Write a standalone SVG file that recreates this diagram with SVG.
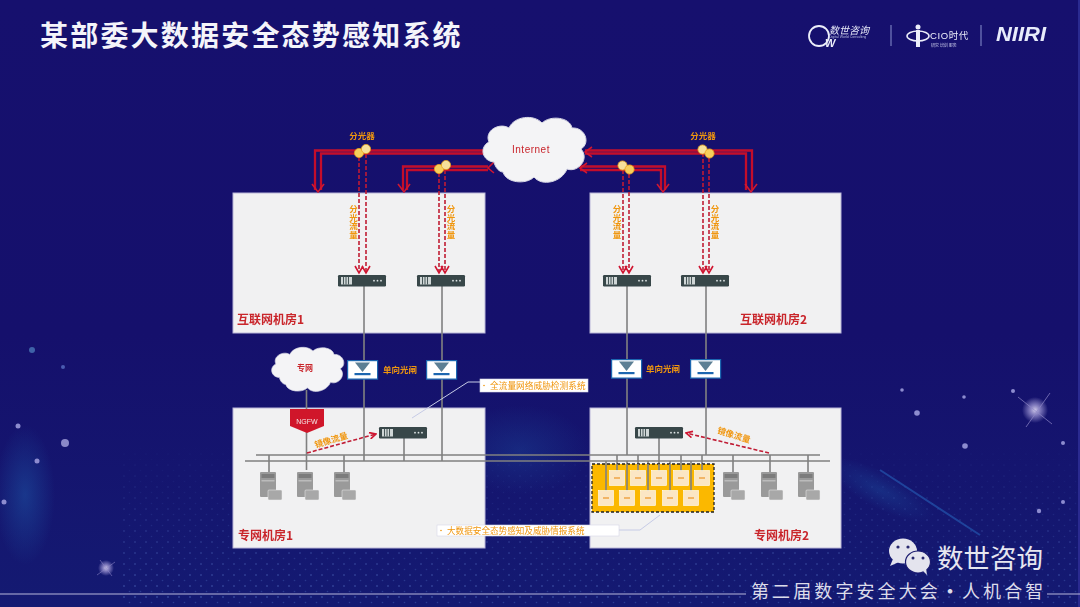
<svg xmlns="http://www.w3.org/2000/svg" xmlns:xlink="http://www.w3.org/1999/xlink" width="1080" height="607" viewBox="0 0 1080 607">
<style>
text{font-family:"Liberation Sans","Noto Sans CJK SC",sans-serif}
.cjk{font-family:"Noto Sans CJK SC","Liberation Sans",sans-serif}
.room{fill:#f1f1f2;stroke:#b9b6d8;stroke-width:1}
.rname{font-size:12px;font-weight:700;fill:#c9252c}
.or{font-size:8.5px;font-weight:700;fill:#f0960e}
.vt{writing-mode:vertical-rl;text-anchor:start}
.rl{fill:none;stroke:#c4112c;stroke-width:2.300}
.ds{fill:none;stroke:#c01c34;stroke-width:1.6;stroke-dasharray:4 2}
.gl{fill:none;stroke:#808080;stroke-width:1.6}
.ah{fill:none;stroke:#d01530;stroke-width:1.6}
.call{fill:#fff;stroke:#d6d6e6;stroke-width:.6}
.lead{fill:none;stroke:#c6cbe6;stroke-width:1}
</style>
<defs>
<linearGradient id="bg" x1="0" y1="0" x2="0" y2="1"><stop offset="0" stop-color="#16106e"/><stop offset=".55" stop-color="#15106c"/><stop offset="1" stop-color="#141a72"/></linearGradient>
<pattern id="dots" width="11" height="11" patternUnits="userSpaceOnUse"><circle cx="3" cy="3" r="1" fill="#5f7fd0"/><circle cx="8.5" cy="8.5" r=".8" fill="#4c6cc0"/></pattern>
<linearGradient id="fade" x1="0" y1="0" x2="0" y2="1"><stop offset="0" stop-color="#000"/><stop offset=".5" stop-color="#555"/><stop offset="1" stop-color="#bbb"/></linearGradient>
<mask id="dm"><rect x="120" y="440" width="960" height="167" fill="url(#fade)"/></mask>
<radialGradient id="mist"><stop offset="0" stop-color="#1f5fae" stop-opacity=".45"/><stop offset="1" stop-color="#1f5fae" stop-opacity="0"/></radialGradient>
<radialGradient id="star"><stop offset="0" stop-color="#cfc9ea"/><stop offset=".45" stop-color="#8f88c8" stop-opacity=".8"/><stop offset="1" stop-color="#8f88c8" stop-opacity="0"/></radialGradient>
<filter id="soft" x="-2%" y="-2%" width="104%" height="104%"><feGaussianBlur stdDeviation=".35"/></filter>
<marker id="arr" viewBox="0 0 10 10" refX="9" refY="5" markerWidth="8" markerHeight="8" markerUnits="userSpaceOnUse" orient="auto"><path d="M1 1 9 5 1 9" fill="none" stroke="#d01530" stroke-width="2"/></marker>
<g id="srv"><rect width="48" height="11.5" rx="1.2" fill="#37474a"/><rect x="3" y="2" width="11" height="7.5" fill="#cfd6d6"/><path d="M5.500 2v7.500M8 2v7.500M10.500 2v7.500" stroke="#37474a" stroke-width=".9"/><circle cx="36" cy="5.700" r=".9" fill="#dfe5e5"/><circle cx="39.500" cy="5.700" r=".9" fill="#dfe5e5"/><circle cx="43" cy="5.700" r=".9" fill="#dfe5e5"/></g>
<g id="gate"><rect x=".6" y=".6" width="30" height="18.500" fill="#fff" stroke="#1b66b0" stroke-width="1.200"/><path d="M8 2.500H23L15.500 12Z" fill="#5b7f94"/><rect x="7.500" y="13" width="16" height="2.200" fill="#1b66b0"/></g>
<g id="host"><rect width="16" height="25" rx="1" fill="#9a9a9a"/><rect x="1.500" y="2" width="13" height="4" fill="#7c7c7c"/><rect x="1.500" y="8" width="13" height="1.500" fill="#bbb"/><rect x="8" y="18" width="14" height="10" rx="1" fill="#a8a8a8" stroke="#eee" stroke-width=".5"/></g>
<g id="sp"><circle cx="-3.500" cy="2" r="4.600" fill="#f6cf5c" stroke="#e7a21c" stroke-width=".8"/><circle cx="3.500" cy="-2" r="4.600" fill="#f7e09a" stroke="#e7a21c" stroke-width=".8"/></g>
<g id="sp2"><circle cx="-3.500" cy="-2" r="4.600" fill="#f7e09a" stroke="#e7a21c" stroke-width=".8"/><circle cx="3.500" cy="2" r="4.600" fill="#f6cf5c" stroke="#e7a21c" stroke-width=".8"/></g>
<path id="cl" d="M12 45C0 44-3 30 7 25 2 14 17 5 27 11 32-1 52-3 60 6 68-2 88 0 90 11 103 10 109 26 99 32 108 42 96 56 85 52 80 65 60 70 52 60 44 68 24 66 21 55 17 55 13 50 12 45Z" fill="#f4f4f6" stroke="#d9d9e6" stroke-width="1"/>
<g id="nb"><rect x="-7.500" y="-7.500" width="15" height="15" fill="#fbe6c4" stroke="#fff" stroke-width=".6"/><rect x="-3" y="-1" width="6" height="2" fill="#f2b566"/></g>
</defs>

<g id="background">
<rect width="1080" height="607" fill="url(#bg)"/>
<rect x="1078" width="2" height="607" fill="#2a2a90"/>
<ellipse cx="25" cy="495" rx="30" ry="70" fill="url(#mist)"/>
<ellipse cx="520" cy="450" rx="70" ry="45" fill="url(#mist)" opacity=".6"/>
<ellipse cx="880" cy="490" rx="60" ry="18" fill="url(#mist)" opacity=".7" transform="rotate(28 880 490)"/>
<rect x="120" y="440" width="960" height="167" fill="url(#dots)" mask="url(#dm)" opacity=".6"/>
<g fill="#8d8ccf">
<circle cx="65" cy="443" r="4" fill="#8a88c8"/><circle cx="18" cy="426" r="2.500"/><circle cx="37" cy="461" r="2.500"/><circle cx="4" cy="502" r="2.500"/><circle cx="32" cy="350" r="3" fill="#3f62a8"/><circle cx="63" cy="367" r="2" fill="#4a5cb0"/>
<circle cx="917" cy="413" r="2.800"/><circle cx="965" cy="446" r="2.800"/><circle cx="902" cy="390" r="1.800"/><circle cx="1013" cy="391" r="2"/><circle cx="964" cy="397" r="1.800"/><circle cx="1063" cy="443" r="2"/><circle cx="1063" cy="502" r="2"/><circle cx="1039" cy="511" r="2.200"/>
</g>
<circle cx="1035" cy="410" r="13" fill="url(#star)"/><path d="M1018 397 1052 424M1050 393 1026 427" stroke="#8f88c8" stroke-width="1" opacity=".7"/>
<circle cx="106" cy="568" r="8" fill="url(#star)"/><path d="M97 575 115 562M100 560 112 576" stroke="#8f88c8" stroke-width=".8" opacity=".7"/>
<path d="M880 470 980 535" stroke="#2660b8" stroke-width="2" opacity=".6"/>
</g>

<g filter="url(#soft)">
<g id="room1"><rect class="room" x="233" y="193" width="252" height="140"/><text class="rname cjk" x="237" y="324">互联网机房1</text></g>
<g id="room2"><rect class="room" x="590" y="193" width="251" height="140"/><text class="rname cjk" x="740" y="324">互联网机房2</text></g>
<g id="room3"><rect class="room" x="233" y="408" width="252" height="140"/><text class="rname cjk" x="238" y="540">专网机房1</text></g>
<g id="room4"><rect class="room" x="590" y="408" width="251" height="140"/><text class="rname cjk" x="754" y="540">专网机房2</text></g>

<g id="connectors">
<path class="gl" d="M364 286V461M442 286V461M627 286V455M706 286V455M306.500 390V470M404 438V461M659 438V470"/>
<path class="gl" d="M256 455H820M245 461H830" stroke-width="1.800"/>
<path class="gl" d="M269 455V472M344 455V472M733 455V472M770 455V472M808 455V472"/>
<path class="gl" d="M617 455V471M638 455V471M681 455V471M702 455V471M606 461V491M627 461V491M648 461V491M670 461V491M691 461V491" stroke="#6f6a50"/>
<g>
<path class="rl" d="M484 150.500H315V190M484 153.500H321V190"/>
<path class="rl" d="M488 166.500H403V190M488 170H407V190"/>
<path class="rl" d="M585 150.500H752V190M585 153.500H746V190"/>
<path class="rl" d="M580 166.500H665V190M580 170H661V190"/>
<path class="ah" d="M312 184 318 192 324 184M398 184 404 192 410 184M745 184 751 192 757 184M657 184 663 192 669 184M490 146 483 152 490 157M494 162 488 168 494 173M592 147 585 152 592 157M587 163 580 168 587 173" stroke-width="2.300"/>
</g>
<g>
<path class="ds" d="M359 157V272M366 154V272M439 173V272M445 170V272M623 170V272M629 174V272M703 153V272M709 158V272"/>
<path class="ah" d="M355 266 359 273 363 266M362 266 366 273 370 266M435 266 439 273 443 266M441 266 445 273 449 266M619 266 623 273 627 266M625 266 629 273 633 266M699 266 703 273 707 266M705 266 709 273 713 266"/>
</g>
<path class="ds" d="M307 453 376 434" marker-end="url(#arr)"/>
<path class="ds" d="M769 453 686 433" marker-end="url(#arr)"/>
<path class="lead" d="M480 382H468L412 418"/>
<path class="lead" d="M619 530H640L660 515" stroke="#d4d4d8"/>
</g>

<g id="splitter1"><use xlink:href="#sp" href="#sp" x="362.500" y="151"/><text class="or cjk" x="362" y="139" text-anchor="middle">分光器</text></g>
<g id="splitter2"><use xlink:href="#sp" href="#sp" x="442.500" y="167"/></g>
<g id="splitter3"><use xlink:href="#sp2" href="#sp2" x="626" y="167.500"/></g>
<g id="splitter4"><use xlink:href="#sp2" href="#sp2" x="706" y="151.500"/><text class="or cjk" x="703" y="139" text-anchor="middle">分光器</text></g>

<g id="flow-labels">
<text class="or cjk vt" x="353.500" y="205">分光流量</text>
<text class="or cjk vt" x="451" y="205">分光流量</text>
<text class="or cjk vt" x="617" y="205">分光流量</text>
<text class="or cjk vt" x="715" y="205">分光流量</text>
</g>

<g id="server1"><use xlink:href="#srv" href="#srv" x="338" y="275"/></g>
<g id="server2"><use xlink:href="#srv" href="#srv" x="417" y="275"/></g>
<g id="server3"><use xlink:href="#srv" href="#srv" x="603" y="275"/></g>
<g id="server4"><use xlink:href="#srv" href="#srv" x="681" y="275"/></g>
<g id="server5"><use xlink:href="#srv" href="#srv" x="379" y="427"/></g>
<g id="server6"><use xlink:href="#srv" href="#srv" x="635" y="427"/></g>

<g id="gate1"><use xlink:href="#gate" href="#gate" x="347" y="360"/></g>
<g id="gate2"><use xlink:href="#gate" href="#gate" x="426" y="360"/></g>
<g id="gate3"><use xlink:href="#gate" href="#gate" x="611" y="359"/></g>
<g id="gate4"><use xlink:href="#gate" href="#gate" x="690" y="359"/></g>
<text class="or cjk" x="383" y="373">单向光闸</text>
<text class="or cjk" x="646" y="372">单向光闸</text>

<g id="internet"><use xlink:href="#cl" href="#cl" transform="translate(482 117)"/><text x="531" y="153" font-size="10" fill="#c9252c" text-anchor="middle" letter-spacing=".5">Internet</text></g>
<g id="private-cloud"><use xlink:href="#cl" href="#cl" transform="translate(271 347) scale(.7 .68)"/><text class="cjk" x="305" y="371" font-size="8" font-weight="700" fill="#c9252c" text-anchor="middle">专网</text></g>
<g id="ngfw"><path d="M290 409H324V426L307 433 290 426Z" fill="#d0182c"/><text x="307" y="424" font-size="7" fill="#f4e4e4" text-anchor="middle">NGFW</text></g>

<text class="or cjk" transform="translate(332 443) rotate(-17)" text-anchor="middle" font-size="9">镜像流量</text>
<text class="or cjk" transform="translate(733 438) rotate(17)" text-anchor="middle" font-size="9">镜像流量</text>

<g id="hosts">
<use xlink:href="#host" href="#host" x="260" y="472"/>
<use xlink:href="#host" href="#host" x="297" y="472"/>
<use xlink:href="#host" href="#host" x="334" y="472"/>
<use xlink:href="#host" href="#host" x="723" y="472"/>
<use xlink:href="#host" href="#host" x="761" y="472"/>
<use xlink:href="#host" href="#host" x="798" y="472"/>
</g>

<g id="cluster">
<rect x="592" y="464" width="122" height="48" fill="#fbb800" stroke="#222" stroke-width="1.300" stroke-dasharray="3 2"/>
<path class="gl" d="M617 464V471M638 464V471M659 464V471M681 464V471M702 464V471M606 464V491M627 464V491M648 464V491M670 464V491M691 464V491" stroke="#77714f"/>
<use xlink:href="#nb" href="#nb" x="617" y="478"/><use xlink:href="#nb" href="#nb" x="638" y="478"/><use xlink:href="#nb" href="#nb" x="659" y="478"/><use xlink:href="#nb" href="#nb" x="681" y="478"/><use xlink:href="#nb" href="#nb" x="702" y="478"/>
<use xlink:href="#nb" href="#nb" x="606" y="498"/><use xlink:href="#nb" href="#nb" x="627" y="498"/><use xlink:href="#nb" href="#nb" x="648" y="498"/><use xlink:href="#nb" href="#nb" x="670" y="498"/><use xlink:href="#nb" href="#nb" x="691" y="498"/>
</g>

<g id="callout1"><rect class="call" x="480" y="379" width="108" height="13"/><circle cx="484" cy="385.500" r=".8" fill="#f0960e"/><text class="cjk" x="490" y="389" font-size="8.700" fill="#f0960e">全流量网络威胁检测系统</text></g>
<g id="callout2"><rect class="call" x="437" y="525" width="182" height="11"/><circle cx="441" cy="530.500" r=".8" fill="#f0960e"/><text class="cjk" x="447" y="534" font-size="8.600" fill="#f0960e">大数据安全态势感知及威胁情报系统</text></g>
</g>

<g id="title"><text class="cjk" x="40" y="46" font-size="28" font-weight="700" fill="#f4f4fa" letter-spacing="2.200">某部委大数据安全态势感知系统</text></g>

<g id="logos" filter="url(#soft)">
<circle cx="819" cy="36" r="10" fill="none" stroke="#eceefa" stroke-width="1.800"/><text x="825" y="47" font-size="11" font-weight="700" font-style="italic" fill="#eceefa">W</text>
<text class="cjk" x="829" y="34" font-size="10" font-style="italic" fill="#e4e6f6">数世咨询</text>
<text x="829" y="38" font-size="3.500" fill="#b9bce0">Digital World Consulting</text>
<path d="M891 25V46M981 25V46" stroke="#6f73b8" stroke-width="1.300"/>
<circle cx="918" cy="27" r="2.500" fill="#eceefa"/><path d="M918 30V47" stroke="#eceefa" stroke-width="4"/><ellipse cx="918" cy="36" rx="11" ry="5" fill="none" stroke="#eceefa" stroke-width="1.500"/>
<text x="930" y="39" font-size="9.500" fill="#eceefa" letter-spacing=".6">CIO<tspan class="cjk">时代</tspan></text>
<text class="cjk" x="931" y="47" font-size="4" fill="#c6c8e8">研究 培训 服务</text>
<text x="996" y="41" font-size="20" font-weight="700" font-style="italic" fill="#e8ecfb" textLength="50" lengthAdjust="spacingAndGlyphs">NIIRI</text>
</g>

<g id="footer">
<g filter="url(#soft)">
<ellipse cx="903" cy="551" rx="14" ry="12.500" fill="#e4e4ee"/><path d="M893 559 890 566 899 562Z" fill="#e4e4ee"/>
<circle cx="898" cy="547" r="1.600" fill="#2a2a70"/><circle cx="908" cy="547" r="1.600" fill="#2a2a70"/>
<ellipse cx="918" cy="562" rx="12.500" ry="11" fill="#e4e4ee" stroke="#1c1c70" stroke-width="1.200"/><path d="M923 571 927 575 926 568Z" fill="#e4e4ee"/>
<circle cx="913" cy="558" r="1.500" fill="#2a2a70"/><circle cx="923" cy="558" r="1.500" fill="#2a2a70"/>
</g>
<text class="cjk" x="937" y="568" font-size="26.500" fill="#e6e6f0">数世咨询</text>
<path d="M0 594H746M1047 594H1080" stroke="#b8b8dc" stroke-width="1.200"/>
<text class="cjk" x="751" y="598" font-size="18" fill="#dcdcea" letter-spacing="3.100">第二届数字安全大会<tspan font-weight="700">·</tspan>人机合智</text>
</g>
</svg>
